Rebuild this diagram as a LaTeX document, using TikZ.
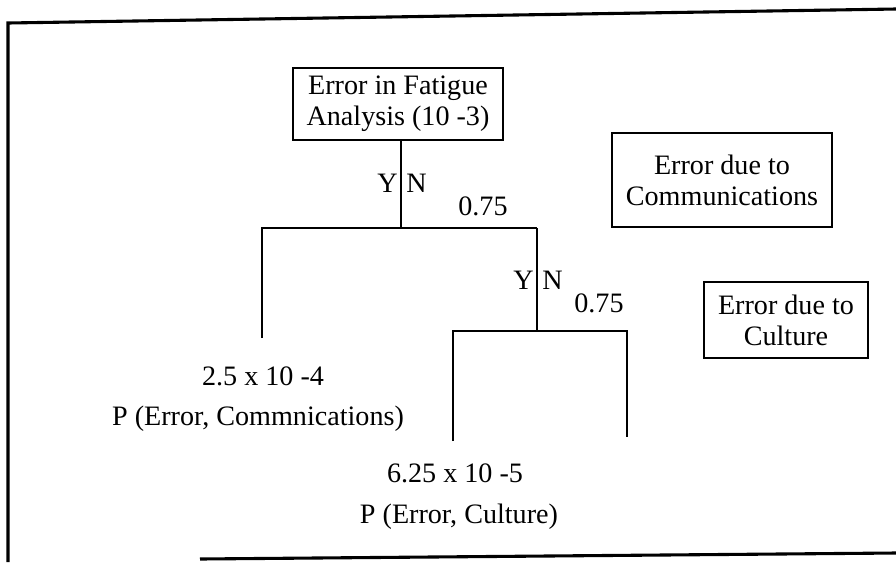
\documentclass[tikz,border=0pt]{standalone}
\usepackage{fontspec}
\setmainfont{Liberation Serif}
\usepackage{tikz}
\usetikzlibrary{positioning}

\tikzset{
	box/.style={draw, line width=1.8pt, align=center, inner sep=0pt, font=\fontsize{20}{22}\selectfont},
	branch/.style={line width=1.8pt},
	lbl/.style={inner sep=0pt, anchor=base}
}

\begin{document}
\begin{tikzpicture}[x=0.025cm, y=-0.025cm, font=\fontsize{20}{24}\selectfont]
	\useasboundingbox (0,0) rectangle (896,562);
	
	% frame
	\draw[line width=2.2pt] (8,562) -- (8,23) -- (896,9);
	\draw[line width=2.2pt] (200,559) -- (896,553);
	
	% boxes
	\node[box, minimum width=210*0.025cm, minimum height=72*0.025cm] (fatigue) at (398,104) {Error in Fatigue\\Analysis (10 -3)};
	\node[box, minimum width=220*0.025cm, minimum height=94*0.025cm] (comm) at (722,180) {Error due to\\Communications};
	\node[box, minimum width=164*0.025cm, minimum height=76*0.025cm] (cult) at (786,320) {Error due to\\Culture};
	
	% first split
	\coordinate (split1) at (401,228);
	\coordinate (yes1) at (262,228);
	\coordinate (no1) at (537,228);
	\coordinate (leaf1) at (262,338);
	\draw[branch] (fatigue.south -| split1) -- (split1);
	\draw[branch] (leaf1) -- (yes1) -- (no1);
	\node[lbl, anchor=base east] at (398,192) {Y};
	\node[lbl, anchor=base west] at (406,192) {N};
	\node[lbl] at (483,215) {0.75};
	
	% second split
	\coordinate (split2) at (537,331);
	\coordinate (yes2) at (453,331);
	\coordinate (no2) at (627,331);
	\coordinate (leaf2) at (453,441);
	\coordinate (leaf3) at (627,437);
	\draw[branch] (no1) -- (split2);
	\draw[branch] (leaf2) -- (yes2) -- (no2) -- (leaf3);
	\node[lbl, anchor=base east] at (534,289) {Y};
	\node[lbl, anchor=base west] at (542,289) {N};
	\node[lbl] at (599,312) {0.75};
	
	% results
	\node[lbl] (p1) at (263,385) {2.5 x 10 -4};
	\node[lbl] (q1) at (258,425) {P (Error, Commnications)};
	\node[lbl] (p2) at (455,482) {6.25 x 10 -5};
	\node[lbl] (q2) at (459,523) {P (Error, Culture)};
\end{tikzpicture}
\end{document}
